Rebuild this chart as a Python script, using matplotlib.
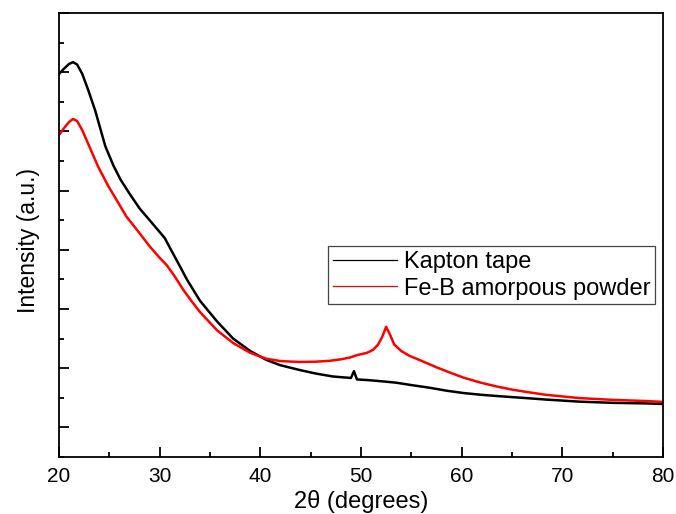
import matplotlib
matplotlib.use("Agg")
import matplotlib.pyplot as plt
from matplotlib.ticker import MultipleLocator, NullFormatter

plt.rcParams['font.family'] = ['Liberation Sans', 'DejaVu Sans']

# 2theta (degrees) and intensity (a.u.)
kapton_x = [20.0, 20.5, 21.0, 21.4, 21.8, 22.3, 22.9, 23.6, 24.6, 25.4, 26.1, 27.0,
            28.0, 29.0, 29.7, 30.5, 31.0, 32.0, 32.7, 34.0, 35.7, 37.3, 39.0, 40.6,
            42.0, 43.9, 45.5, 47.2, 49.0, 49.3, 49.6, 50.6, 52.0, 53.5, 55.0, 56.8,
            58.5, 60.2, 62.0, 63.5, 66.4, 68.4, 71.7, 75.0, 78.4, 80.0]
kapton_y = [1194, 1212, 1228, 1234, 1226, 1195, 1140, 1070, 950, 885, 838, 790,
            740, 700, 672, 640, 608, 545, 500, 428, 358, 300, 258, 228,
            210, 194, 182, 172, 167, 190, 162, 160, 156, 151, 143, 134,
            124, 116, 110, 106, 99, 94, 87, 83, 81, 79]

feb_x = [20.0, 20.5, 21.0, 21.4, 21.8, 22.3, 22.9, 23.9, 24.9, 25.9, 26.7, 27.8,
         29.0, 30.0, 30.7, 31.5, 32.3, 33.2, 34.0, 35.7, 37.3, 39.0, 40.6, 42.0,
         43.9, 45.5, 46.9, 48.0, 48.9, 49.6, 50.6, 51.2, 51.7, 52.1, 52.5, 52.9,
         53.3, 54.0, 54.8, 56.0, 57.5, 59.0, 60.2, 61.8, 63.5, 65.1, 66.4, 68.4,
         71.7, 75.0, 78.4, 80.0]
feb_y = [988, 1011, 1032, 1042, 1035, 1005, 958, 880, 815, 758, 712, 665,
         612, 573, 548, 510, 467, 425, 390, 328, 285, 252, 232, 224,
         221, 222, 225, 230, 236, 244, 252, 262, 280, 305, 340, 312,
         280, 258, 242, 225, 203, 183, 168, 152, 138, 127, 120, 110,
         99, 93, 89, 86]

x_ticks = [20, 30, 40, 50, 60, 70, 80]

fig = plt.figure(figsize=(6.76, 5.14), dpi=100)
ax = fig.add_axes([59/676, 57/514, 604/676, 444/514])

ax.plot(kapton_x, kapton_y, color='black', lw=1.8, label='Kapton tape')
ax.plot(feb_x, feb_y, color='#ff0000', lw=1.8, label='Fe-B amorpous powder')

ax.set_xlim(20, 80)
ax.set_ylim(-100, 1400)
ax.set_xticks(x_ticks)
ax.xaxis.set_minor_locator(MultipleLocator(5))
ax.yaxis.set_major_locator(MultipleLocator(200))
ax.yaxis.set_minor_locator(MultipleLocator(100))
ax.yaxis.set_major_formatter(NullFormatter())
ax.tick_params(which='both', direction='in', width=1.3, labelsize=15)
ax.tick_params(which='major', length=7)
ax.tick_params(which='minor', length=3.6)
ax.tick_params(axis='x', pad=7)
for s in ax.spines.values():
    s.set_linewidth(1.3)

ax.set_xlabel('2θ (degrees)', fontsize=17, labelpad=3)
ax.set_ylabel('Intensity (a.u.)', fontsize=16.5)
ax.yaxis.set_label_coords(-0.031, 0.487)

leg = ax.legend(loc='upper right', bbox_to_anchor=(0.987, 0.475), borderaxespad=0,
                fancybox=False, edgecolor='#444444', fontsize=17, handlelength=2.7,
                labelspacing=0.2, borderpad=0.2, handletextpad=0.3, framealpha=1)
leg.get_frame().set_linewidth(0.9)
for l in leg.get_lines():
    l.set_linewidth(0.9)

fig.savefig('out.png', dpi=100)
